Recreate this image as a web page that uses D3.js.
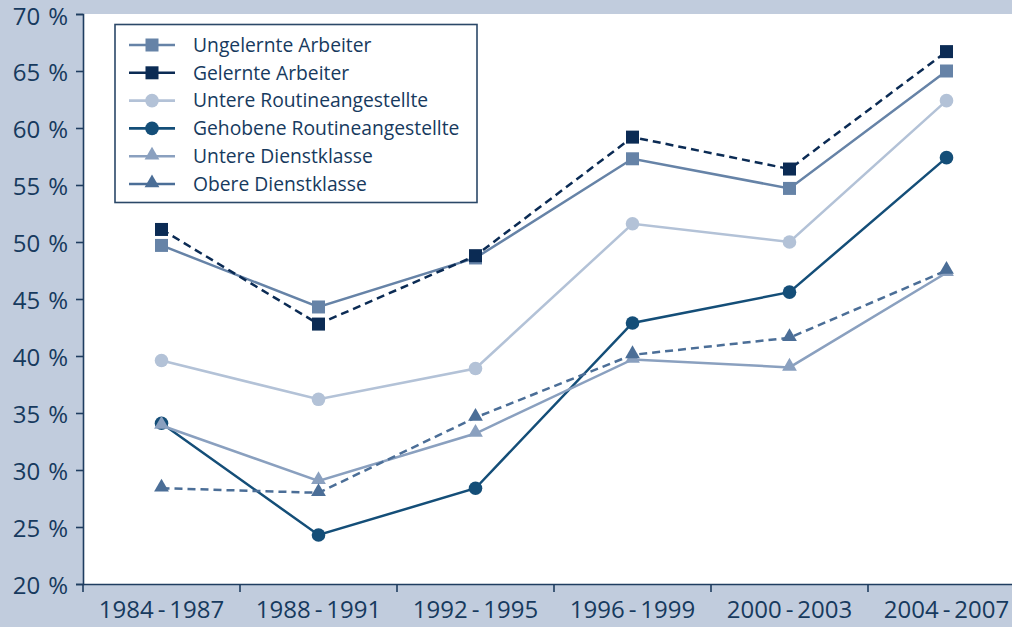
<!DOCTYPE html>
<html>
<head>
<meta charset="utf-8">
<script src="https://cdn.jsdelivr.net/npm/d3@7"></script>
<style>
  body { margin: 0; background: #c1ccdd; }
  svg { display: block; font-family: "Open Sans", sans-serif; }
  .axis-labels { fill: #173a5e; }
</style>
</head>
<body>
<svg id="chart"></svg>
<script>
// data
var periods = ["1984\u2009-\u20091987", "1988\u2009-\u20091991", "1992\u2009-\u20091995",
               "1996\u2009-\u20091999", "2000\u2009-\u20092003", "2004\u2009-\u20092007"];
var yTicks = [20, 25, 30, 35, 40, 45, 50, 55, 60, 65, 70];

var ungelernte   = [49.7, 44.3, 48.6, 57.3, 54.7, 65.0];
var gelernte     = [51.1, 42.8, 48.8, 59.2, 56.4, 66.7];
var untereRoutine = [39.6, 36.2, 38.9, 51.6, 50.0, 62.4];
var gehobeneRoutine = [34.1, 24.3, 28.4, 42.9, 45.6, 57.4];
var untereDienst = [33.9, 29.05, 33.2, 39.7, 39.0, 47.3];
var obereDienst  = [28.4, 28.0, 34.6, 40.1, 41.6, 47.5];

var seriesNames = ["Ungelernte Arbeiter", "Gelernte Arbeiter", "Untere Routineangestellte",
                   "Gehobene Routineangestellte", "Untere Dienstklasse", "Obere Dienstklasse"];

var series = [
    {name: seriesNames[0], values: ungelernte,      color: "#6683a7", shape: "square",   dash: null},
    {name: seriesNames[1], values: gelernte,        color: "#0b2b54", shape: "square",   dash: "8,5"},
    {name: seriesNames[2], values: untereRoutine,   color: "#b3c2d7", shape: "circle",   dash: null},
    {name: seriesNames[3], values: gehobeneRoutine, color: "#144e78", shape: "circle",   dash: null},
    {name: seriesNames[4], values: untereDienst,    color: "#8aa0bf", shape: "triangle", dash: null},
    {name: seriesNames[5], values: obereDienst,     color: "#4b6e97", shape: "triangle", dash: "8,5"}
];

var W = 1012, H = 627;
var margin = {top: 14, right: 0, bottom: 43, left: 83};

var svg = d3.select("#chart")
    .attr("width", W)
    .attr("height", H);

var x = d3.scaleBand()
    .domain(periods)
    .range([margin.left, margin.left + 6 * 157])
    .padding(0);

var y = d3.scaleLinear()
    .domain([20, 70])
    .range([H - margin.bottom, margin.top]);

// white plot area
svg.append("rect")
    .attr("x", margin.left)
    .attr("y", margin.top)
    .attr("width", W - margin.left)
    .attr("height", H - margin.bottom - margin.top)
    .attr("fill", "#ffffff");

// y axis
var yAxis = svg.append("g")
    .attr("transform", "translate(" + margin.left + ",0)")
    .call(d3.axisLeft(y).tickValues(yTicks).tickSize(7).tickPadding(8)
        .tickFormat(function(d){ return d + "\u2009\u2009%"; }));
yAxis.attr("font-family", "'Open Sans', sans-serif");
yAxis.select(".domain").attr("stroke", "#1f3d60").attr("stroke-width", 1.6);
yAxis.selectAll(".tick line").attr("stroke", "#1f3d60").attr("stroke-width", 1.6);
yAxis.selectAll(".tick text")
    .attr("fill", "#173a5e")
    .attr("dy", function(d){ return d === 70 ? "0.45em" : "0.38em"; })
    .style("font-size", "24px");

// x axis
var xAxis = svg.append("g")
    .attr("transform", "translate(0," + (H - margin.bottom) + ")")
    .call(d3.axisBottom(x).tickSize(0).tickPadding(17));
xAxis.attr("font-family", "'Open Sans', sans-serif");
xAxis.select(".domain").attr("stroke", "#1f3d60").attr("stroke-width", 1.6);
xAxis.selectAll(".tick text")
    .attr("fill", "#173a5e")
    .style("font-size", "24px");

// band boundary ticks
var boundaries = periods.map(function(p){ return x(p); });
xAxis.selectAll(".band-tick")
    .data(boundaries)
    .enter()
    .append("line")
    .attr("class", "band-tick")
    .attr("x1", function(d){ return d; })
    .attr("x2", function(d){ return d; })
    .attr("y1", 0)
    .attr("y2", 8)
    .attr("stroke", "#1f3d60")
    .attr("stroke-width", 1.6);

var cx = function(i){ return x(periods[i]) + x.bandwidth() / 2; };

var line = d3.line()
    .x(function(d, i){ return cx(i); })
    .y(function(d){ return y(d); });

function drawMarker(g, shape, color, px, py) {
    if (shape === "square") {
        g.append("rect")
            .attr("x", px - 6.5).attr("y", py - 6.5)
            .attr("width", 13).attr("height", 13)
            .attr("fill", color);
    } else if (shape === "circle") {
        g.append("circle")
            .attr("cx", px).attr("cy", py).attr("r", 6.8)
            .attr("fill", color);
    } else {
        g.append("path")
            .attr("d", d3.symbol().type(d3.symbolTriangle).size(95)())
            .attr("transform", "translate(" + px + "," + (py - 1) + ")")
            .attr("fill", color);
    }
}

var plot = svg.append("g").attr("class", "points-container");

series.forEach(function(s){
    var g = plot.append("g");
    g.append("path")
        .datum(s.values)
        .attr("d", line)
        .attr("fill", "none")
        .attr("stroke", s.color)
        .attr("stroke-width", 2.5)
        .attr("stroke-dasharray", s.dash);
    s.values.forEach(function(v, i){
        drawMarker(g, s.shape, s.color, cx(i), y(v));
    });
});

// legend
var legend = svg.append("g").attr("class", "legend");
legend.append("rect")
    .attr("x", 115)
    .attr("y", 24.5)
    .attr("width", 362)
    .attr("height", 178)
    .attr("fill", "#ffffff")
    .attr("stroke", "#2b4868")
    .attr("stroke-width", 1.6);

series.forEach(function(s, i){
    var ly = 45 + i * 27.8;
    var g = legend.append("g");
    g.append("line")
        .attr("x1", 129).attr("x2", 175)
        .attr("y1", ly).attr("y2", ly)
        .attr("stroke", s.color)
        .attr("stroke-width", 2.6);
    drawMarker(g, s.shape, s.color, 152, ly);
    g.append("text")
        .attr("class", "axis-labels")
        .attr("x", 193)
        .attr("y", ly)
        .attr("dy", "0.35em")
        .style("font-size", "19.3px")
        .text(s.name);
});
</script>
</body>
</html>
